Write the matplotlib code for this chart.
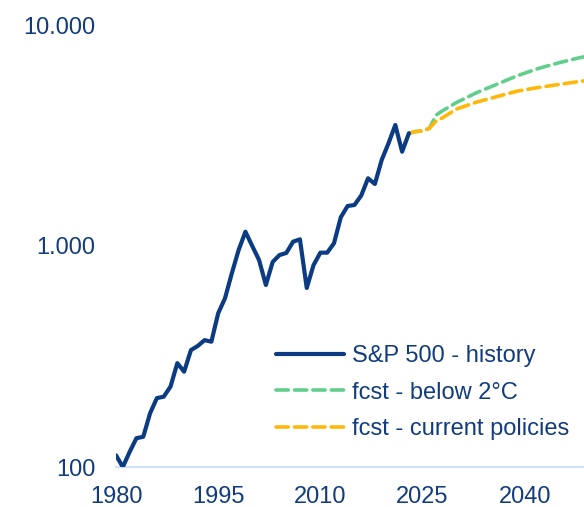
import matplotlib.pyplot as plt
from matplotlib.ticker import FixedLocator, NullLocator

plt.rcParams['font.family'] = ['Liberation Sans', 'DejaVu Sans']

# history (yearly)
hist_years = list(range(1980, 2024))
hist_vals = [113, 100, 117, 135, 137, 175, 205, 208, 231, 295,
             270, 338, 353, 375, 369, 496, 580, 752, 959, 1161,
             1000, 864, 666, 847, 910, 930, 1046, 1072, 646, 820,
             933, 933, 1029, 1349, 1517, 1533, 1692, 2025, 1908, 2449,
             2915, 3528, 2671, 3236]

# forecasts
fc_years = [2023, 2024, 2025, 2026, 2027, 2028, 2030, 2033, 2036, 2039, 2042, 2045, 2048, 2050]
fc_below2 = [3236, 3297, 3313, 3410, 3915, 4104, 4461, 4951, 5408, 5909, 6357, 6745, 7105, 7316]
fc_current = [3236, 3297, 3313, 3410, 3678, 3814, 4169, 4484, 4749, 5028, 5214, 5380, 5550, 5656]

yticks = [100, 1000, 10000]
ytick_labels = ['100', '1.000', '10.000']
xticks = [1980, 1995, 2010, 2025, 2040]

navy = '#0B3B82'
green = '#62CE8C'
gold = '#FFB809'
txt = '#123C7E'

fig = plt.figure(figsize=(5.84, 5.07), dpi=100)
ax = fig.add_axes([116 / 584, 40 / 507, 1 - 116 / 584, 442 / 507])

ax.plot(hist_years, hist_vals, color=navy, lw=3.0, solid_joinstyle='round',
        solid_capstyle='round', label='S&P 500 - history', zorder=3)
ax.plot(fc_years, fc_below2, color=green, lw=2.6, dashes=(3.4, 1.7),
        dash_capstyle='round', label='fcst - below 2°C', zorder=2)
ax.plot(fc_years, fc_current, color=gold, lw=2.6, dashes=(3.4, 1.7),
        dash_capstyle='round', label='fcst - current policies', zorder=2)

ax.set_yscale('log')
ax.set_ylim(100, 10000)
ax.set_xlim(1980, 2048.7)
ax.yaxis.set_major_locator(FixedLocator(yticks))
ax.yaxis.set_minor_locator(NullLocator())
ax.set_yticklabels(ytick_labels)
ax.set_xticks(xticks)
ax.set_xticklabels([str(x) for x in xticks])

for s in ['top', 'right', 'left']:
    ax.spines[s].set_visible(False)
ax.spines['bottom'].set_color('#CFE2FA')
ax.spines['bottom'].set_linewidth(1.5)
ax.spines['bottom'].set_zorder(1)

ax.tick_params(axis='both', length=0, labelsize=17, labelcolor=txt)
ax.tick_params(axis='y', pad=15)
ax.tick_params(axis='x', pad=14)

leg = ax.legend(loc='upper left', bbox_to_anchor=(276 / 584, 1 - 345 / 507),
                bbox_transform=fig.transFigure, frameon=False, fontsize=17,
                handlelength=2.9, handletextpad=0.3, labelspacing=0.62,
                borderpad=0, borderaxespad=0)
for t in leg.get_texts():
    t.set_color(txt)

fig.savefig('out.png', dpi=100)
